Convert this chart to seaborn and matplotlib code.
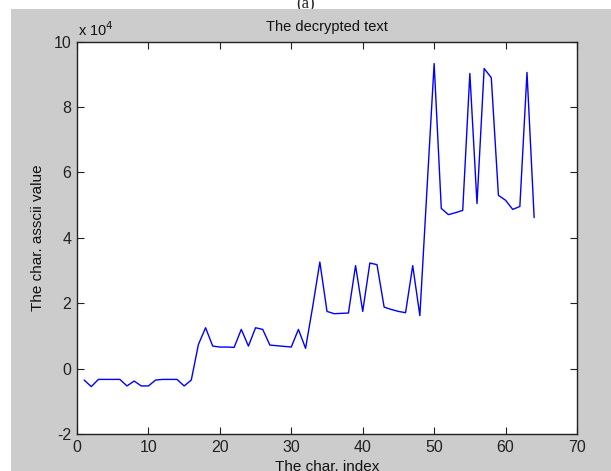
import matplotlib
matplotlib.use("Agg")
import matplotlib.pyplot as plt
import pandas as pd
import seaborn as sns
from matplotlib.patches import Rectangle
from matplotlib.ticker import FuncFormatter

# data
char_index = list(range(1, 65))
ascii_value = [
    -3500, -5500, -3300, -3300, -3300, -3300, -5300, -3800, -5300, -5300,
    -3500, -3300, -3300, -3300, -5300, -3500, 7400, 12500, 6900, 6600,
    6600, 6500, 12000, 6900, 12500, 12000, 7200, 7000, 6800, 6600,
    12000, 6200, 19000, 32600, 17500, 16800, 16900, 17000, 31500, 17500,
    32300, 31800, 18800, 18100, 17500, 17100, 31500, 16200, 55000, 93300,
    49000, 47100, 47700, 48400, 90300, 50500, 91800, 89000, 53000, 51500,
    48700, 49600, 90600, 46200,
]
x_ticks = [0, 10, 20, 30, 40, 50, 60, 70]
y_ticks = [-20000, 0, 20000, 40000, 60000, 80000, 100000]

df = pd.DataFrame({"index": char_index, "value": ascii_value})

sns.set_style("ticks")
plt.rcParams["font.family"] = ["Liberation Sans", "DejaVu Sans"]

fig = plt.figure(figsize=(6.11, 4.71), dpi=100, facecolor="white")
# matlab style grey figure panel, top strip left white
fig.patches.append(Rectangle((11 / 611, 0), 600 / 611, 462 / 471,
                             transform=fig.transFigure, facecolor="#cccccc",
                             edgecolor="none", zorder=-1))
fig.text(0.5, 1 - 12 / 471, "(a)", ha="center", va="bottom", fontsize=12,
         family="Liberation Serif", zorder=-2)

ax = fig.add_axes([77 / 611, 37 / 471, 500 / 611, 392.3 / 471])
ax.set_facecolor("white")
sns.lineplot(data=df, x="index", y="value", color="#0000ff", linewidth=1.0, ax=ax)

ax.set_xlim(0, 70)
ax.set_ylim(-20000, 100000)
ax.set_xticks(x_ticks)
ax.set_yticks(y_ticks)
ax.yaxis.set_major_formatter(FuncFormatter(lambda v, p: f"{v / 1e4:g}"))
ax.tick_params(direction="in", length=5, width=0.8, colors="#222222",
               labelsize=11.5, top=True, right=True)
ax.tick_params(axis="x", pad=4)
ax.tick_params(axis="y", pad=4)
for s in ax.spines.values():
    s.set_visible(True)
    s.set_color("#222222")
    s.set_linewidth(1.0)

ax.set_title("The decrypted text", fontsize=10.5, pad=8, color="#111111")
ax.set_xlabel("The char. index", fontsize=11, labelpad=4, color="#111111")
ax.set_ylabel("The char. asscii value", fontsize=11, labelpad=6, color="#111111")
ax.text(0.003, 1 + 6 / 392, "x 10$^4$", transform=ax.transAxes, fontsize=10.5,
        ha="left", va="baseline", color="#111111")

fig.savefig("out.png", dpi=100, facecolor=fig.get_facecolor())
